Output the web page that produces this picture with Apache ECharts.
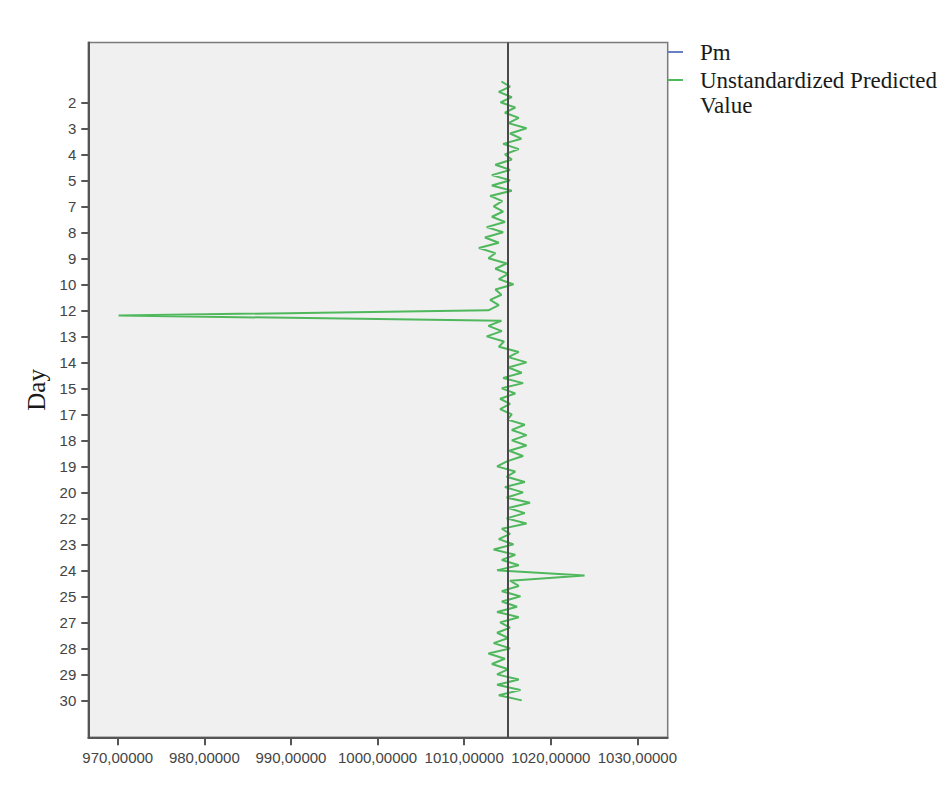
<!DOCTYPE html>
<html>
<head>
<meta charset="utf-8">
<script src="https://cdn.jsdelivr.net/npm/echarts@6/dist/echarts.min.js"></script>
<style>
html,body{margin:0;padding:0;background:#ffffff;}
#chart{width:947px;height:794px;}
</style>
</head>
<body>
<div id="chart"></div>
<script>
// Day of each observation (4 observations per day)
const days = [
 1,1,1,1, 2,2,2,2, 3,3,3,3, 4,4,4,4, 5,5,5,5, 6,6,6,6, 7,7,7,7, 8,8,8,8, 9,9,9,9, 10,10,10,10,
 11,11,11,11, 12,12,12,12, 13,13,13,13, 14,14,14,14, 15,15,15,15, 16,16,16,16, 17,17,17,17, 18,18,18,18, 19,19,19,19, 20,20,20,20,
 21,21,21,21, 22,22,22,22, 23,23,23,23, 24,24,24,24, 25,25,25,25, 26,26,26,26, 27,27,27,27, 28,28,28,28, 29,29,29,29, 30,30,30,30
];

// Unstandardized Predicted Value for each observation
const predicted = [
 1014.3, 1015.3, 1014.0, 1015.5, 1014.2, 1015.9, 1014.7, 1016.3, 1015.1, 1017.2,
 1015.3, 1016.6, 1014.5, 1016.3, 1014.7, 1015.5, 1013.6, 1015.3, 1013.2, 1015.3,
 1013.2, 1015.5, 1013.0, 1014.4, 1013.4, 1014.5, 1013.2, 1014.7, 1012.6, 1014.5,
 1012.4, 1014.0, 1011.7, 1013.6, 1012.8, 1014.9, 1013.6, 1015.1, 1014.0, 1015.7,
 1013.6, 1014.3, 1013.0, 1014.0, 1012.8, 970.1, 1014.3, 1012.8, 1014.35, 1012.6,
 1014.6, 1014.0, 1016.3, 1015.1, 1017.2, 1015.1, 1016.65, 1014.5, 1016.8, 1014.35,
 1015.9, 1014.15, 1015.3, 1014.15, 1015.5, 1015.0, 1017.0, 1015.5, 1017.2, 1015.5,
 1017.2, 1015.2, 1016.8, 1015.0, 1013.8, 1015.9, 1014.9, 1017.0, 1014.7, 1016.8,
 1014.9, 1017.6, 1015.1, 1017.0, 1014.9, 1017.2, 1014.35, 1015.3, 1014.0, 1015.7,
 1013.4, 1015.9, 1014.35, 1016.3, 1013.8, 1023.9, 1015.3, 1016.3, 1014.35, 1016.5,
 1014.35, 1016.1, 1013.8, 1016.3, 1014.15, 1015.3, 1013.8, 1015.1, 1013.4, 1015.3,
 1012.8, 1014.7, 1013.2, 1015.1, 1013.8, 1016.3, 1013.8, 1016.5, 1014.0, 1016.65
];

// Pm reference value (drawn as a vertical line)
const pmValue = 1015;

// Category tick positions (observation index) and their labels
const tickObs = [4, 9, 14, 19, 24, 29, 34, 39, 44, 49, 54, 59, 64, 69, 74, 79, 84, 89, 94, 99, 104, 109, 114, 119];
const tickLabels = ['2','3','4','5','7','8','9','10','12','13','14','15','17','18','19','20','22','23','24','25','27','28','29','30'];

// Value axis ticks
const xTicks = [970, 980, 990, 1000, 1010, 1020, 1030];

const labelOf = {};
tickObs.forEach((o, i) => { labelOf[o] = tickLabels[i]; });

const predData = predicted.map((v, i) => [v, i]);

const chart = echarts.init(document.getElementById('chart'), null, { renderer: 'svg' });

const serif = '"Liberation Serif", "Times New Roman", serif';
const sans = '"Liberation Sans", Arial, sans-serif';

chart.setOption({
  animation: false,
  backgroundColor: '#ffffff',
  grid: {
    left: 88.3, right: 279.3, top: 42.5, bottom: 56.7,
    show: true, backgroundColor: '#f0f0f0', borderColor: '#7a7a7a', borderWidth: 1.5,
    containLabel: false, outerBoundsMode: 'none'
  },
  legend: [
    {
      data: ['Pm'], orient: 'vertical', left: 668, top: 39.5, padding: 0,
      icon: 'rect', itemWidth: 15, itemHeight: 2,
      textStyle: { fontFamily: serif, fontSize: 23, color: '#1a1a1a', lineHeight: 25, padding: [0, 0, 0, 12] }
    },
    {
      data: ['Unstandardized Predicted Value'], orient: 'vertical', left: 668, top: 42.5, padding: 0,
      icon: 'rect', itemWidth: 15, itemHeight: 2,
      formatter: function (n) { return ' \nUnstandardized Predicted\nValue'; },
      textStyle: { fontFamily: serif, fontSize: 23, color: '#1a1a1a', lineHeight: 25, padding: [0, 0, 0, 12] }
    }
  ],
  xAxis: {
    type: 'value', min: 966.6, max: 1033.5,
    axisLine: { show: true, onZero: false, lineStyle: { color: '#555555', width: 2 } },
    axisTick: { show: true, customValues: xTicks, length: 8, lineStyle: { color: '#555555', width: 2 } },
    axisLabel: {
      customValues: xTicks, margin: 13,
      formatter: function (v) { return v.toFixed(5).replace('.', ','); },
      fontFamily: sans, fontSize: 15, color: '#444444'
    },
    splitLine: { show: false }
  },
  yAxis: {
    type: 'value', inverse: true, min: -7.5, max: 126.1,
    name: 'Day', nameLocation: 'middle', nameGap: 38, nameRotate: 90,
    nameTextStyle: { fontFamily: serif, fontSize: 25, color: '#1a1a1a' },
    axisLine: { show: true, onZero: false, lineStyle: { color: '#555555', width: 2 } },
    axisTick: { show: true, customValues: tickObs, length: 7, lineStyle: { color: '#555555', width: 2 } },
    axisLabel: {
      customValues: tickObs, margin: 12,
      formatter: function (v) { return labelOf[v] !== undefined ? labelOf[v] : ''; },
      fontFamily: sans, fontSize: 15, color: '#444444'
    },
    splitLine: { show: false }
  },
  series: [
    {
      name: 'Pm', type: 'line', data: [],
      itemStyle: { color: '#6a7fc2' }, lineStyle: { color: '#6a7fc2' },
      markLine: {
        silent: true, symbol: 'none', label: { show: false },
        lineStyle: { color: '#4a4a4a', width: 2, type: 'solid' },
        data: [{ xAxis: pmValue }]
      }
    },
    {
      name: 'Unstandardized Predicted Value', type: 'line', data: predData,
      showSymbol: false, symbol: 'none',
      itemStyle: { color: '#4fb85c' },
      lineStyle: { color: '#4fb85c', width: 2 },
      z: 3
    }
  ]
});
</script>
</body>
</html>
